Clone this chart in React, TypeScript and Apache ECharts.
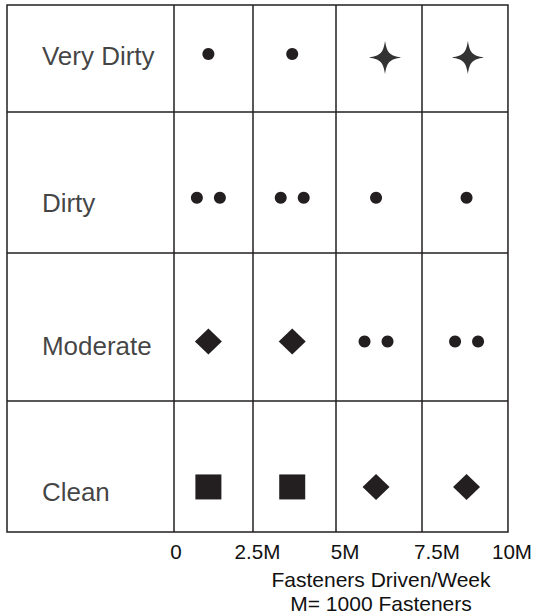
import React, { useEffect, useRef } from "react";
import * as echarts from "echarts";

// Row names (top to bottom) and the vertical position of each label (rows counted from top, 0..4)
const rowNames = ["Very Dirty", "Dirty", "Moderate", "Clean"];
const rowLabelY = [0.39, 1.5, 2.59, 3.7];
const rowLabelX = -3.97;

// Cell boundaries
const rowBoundaries = [0.81, 1.88, 3.0];
const colBoundaries = [0, 2.37, 4.85, 7.43];

// X axis ticks (millions of fasteners per week)
const xTicks = [0, 2.5, 5, 7.5, 10];
const tickLabels = ["0", "2.5M", "5M", "7.5M", "10M"];

// Markers: [x, row position]
const singleDots: [number, number][] = [
  [1.03, 0.372],
  [3.54, 0.372],
  [6.05, 1.463],
  [8.76, 1.463],
];
const pairDots: [number, number][] = [
  [1.03, 1.463],
  [3.54, 1.463],
  [6.05, 2.554],
  [8.76, 2.554],
];
const stars: [number, number][] = [
  [6.32, 0.398],
  [8.8, 0.398],
];
const diamonds: [number, number][] = [
  [1.03, 2.554],
  [3.54, 2.554],
  [6.05, 3.658],
  [8.76, 3.658],
];
const squares: [number, number][] = [
  [1.03, 3.658],
  [3.54, 3.658],
];

const INK = "#231f20";
const TEXT = "#111111";
const FONT = "'Liberation Sans', Arial, Helvetica, sans-serif";
const STAR =
  "path://M0,-1 C0.12,-0.28 0.28,-0.12 1,0 C0.28,0.12 0.12,0.28 0,1 C-0.12,0.28 -0.28,0.12 -1,0 C-0.28,-0.12 -0.12,-0.28 0,-1 Z";

export default function App() {
  const ref = useRef<HTMLDivElement>(null);

  useEffect(() => {
    if (!ref.current) return;
    const chart = echarts.init(ref.current, undefined, { renderer: "svg" });

    const markerBase = {
      type: "scatter" as const,
      silent: true,
      itemStyle: { color: INK, opacity: 1 },
      z: 5,
    };

    chart.setOption({
      animation: false,
      backgroundColor: "#ffffff",
      textStyle: { fontFamily: FONT, color: TEXT },
      title: {
        text: "Fasteners Driven/Week\nM= 1000 Fasteners",
        left: 381,
        top: 567,
        padding: 0,
        textAlign: "center",
        textStyle: {
          fontFamily: FONT,
          fontSize: 21,
          lineHeight: 24,
          fontWeight: "normal",
          color: TEXT,
        },
      },
      grid: {
        left: 7,
        top: 5,
        right: 27,
        bottom: 83,
        show: true,
        borderColor: INK,
        borderWidth: 1.5,
        backgroundColor: "transparent",
      },
      xAxis: {
        type: "value",
        min: -5,
        max: 10,
        interval: 2.5,
        axisLine: { show: false },
        axisTick: { show: false },
        splitLine: { show: false },
        axisLabel: {
          margin: 9,
          fontFamily: FONT,
          fontSize: 20.6,
          color: TEXT,
          formatter: (v: number) => {
            const i = xTicks.findIndex((t) => Math.abs(t - v) < 1e-6);
            if (i < 0) return "";
            const key = ["a", "b", "c", "d", "e"][i];
            return `{${key}|${tickLabels[i]}}`;
          },
          rich: {
            a: { fontSize: 20.6, fontFamily: FONT, color: TEXT, padding: [0, 0, 0, 4] },
            b: { fontSize: 20.6, fontFamily: FONT, color: TEXT },
            c: { fontSize: 20.6, fontFamily: FONT, color: TEXT, padding: [0, 0, 0, 8] },
            d: { fontSize: 20.6, fontFamily: FONT, color: TEXT, padding: [0, 0, 0, 25] },
            e: { fontSize: 20.6, fontFamily: FONT, color: TEXT, padding: [0, 0, 0, 8] },
          },
        },
      },
      yAxis: {
        type: "value",
        inverse: true,
        min: 0,
        max: 4,
        show: false,
        splitLine: { show: false },
      },
      series: [
        {
          type: "scatter",
          name: "rows",
          silent: true,
          symbol: "circle",
          symbolSize: 1,
          itemStyle: { color: "transparent" },
          data: rowLabelY.map((y, i) => ({ value: [rowLabelX, y], name: rowNames[i] })),
          label: {
            show: true,
            position: "right",
            distance: 0,
            formatter: (p: any) => p.name,
            fontFamily: FONT,
            fontSize: 26,
            color: TEXT,
          },
          markLine: {
            silent: true,
            symbol: ["none", "none"],
            label: { show: false },
            lineStyle: { color: INK, width: 1.5, type: "solid" },
            data: [
              ...colBoundaries.map((x) => ({ xAxis: x })),
              ...rowBoundaries.map((y) => ({ yAxis: y })),
            ],
          },
        },
        { ...markerBase, name: "dot", symbol: "circle", symbolSize: 12, data: singleDots },
        {
          ...markerBase,
          name: "pair-left",
          symbol: "circle",
          symbolSize: 12,
          symbolOffset: [-11.5, 0],
          data: pairDots,
        },
        {
          ...markerBase,
          name: "pair-right",
          symbol: "circle",
          symbolSize: 12,
          symbolOffset: [11.5, 0],
          data: pairDots,
        },
        { ...markerBase, name: "star", symbol: STAR, symbolSize: [32, 33], itemStyle: { color: "#000" }, data: stars },
        { ...markerBase, name: "diamond", symbol: "diamond", symbolSize: [27, 26], data: diamonds },
        { ...markerBase, name: "square", symbol: "rect", symbolSize: [26, 25], data: squares },
      ],
    });

    return () => chart.dispose();
  }, []);

  return (
    <div
      ref={ref}
      style={{ position: "absolute", left: 0, top: 0, width: 535, height: 615 }}
    />
  );
}
